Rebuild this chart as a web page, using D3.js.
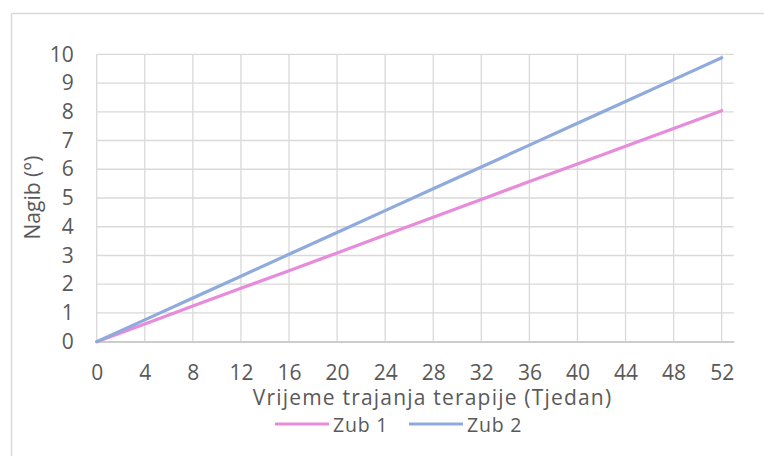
<!DOCTYPE html>
<html><head><meta charset="utf-8">
<script src="https://cdn.jsdelivr.net/npm/d3@7"></script>
<style>
html,body{margin:0;padding:0;background:#fff;}
text{font-family:"Open Sans",sans-serif;fill:#595959;}
</style></head>
<body>
<svg id="c" width="764" height="456"></svg>
<script>
const weeks = [0,4,8,12,16,20,24,28,32,36,40,44,48,52];
const zub1 = [0,0.62,1.24,1.86,2.47,3.09,3.71,4.33,4.95,5.57,6.18,6.80,7.42,8.04];
const zub2 = [0,0.76,1.52,2.28,3.04,3.80,4.56,5.32,6.08,6.84,7.60,8.36,9.12,9.88];
const xTicks = [0,4,8,12,16,20,24,28,32,36,40,44,48,52];
const yTicks = [0,1,2,3,4,5,6,7,8,9,10];
const seriesNames = ["Zub 1","Zub 2"];
const colors = ["#E78BDB","#8FAADC"];

const svg = d3.select("#c");
svg.append("line").attr("x1",11.5).attr("x2",11.5).attr("y1",13.5).attr("y2",456).attr("stroke","#d9d9d9").attr("stroke-width",1.5);
svg.append("line").attr("x1",11.5).attr("x2",764).attr("y1",13.5).attr("y2",13.5).attr("stroke","#d9d9d9").attr("stroke-width",1.5);

const x = d3.scaleLinear().domain([0,53]).range([96.7,733.7]);
const y = d3.scaleLinear().domain([0,10]).range([341.7,54.3]);

const g = svg.append("g");
g.selectAll(".hg").data(yTicks).join("line")
  .attr("x1",x(0)).attr("x2",x(53)).attr("y1",d=>y(d)).attr("y2",d=>y(d))
  .attr("stroke","#d9d9d9").attr("stroke-width",1.3);
g.selectAll(".vg").data(xTicks).join("line")
  .attr("x1",d=>x(d)).attr("x2",d=>x(d)).attr("y1",y(0)).attr("y2",y(10))
  .attr("stroke","#d9d9d9").attr("stroke-width",1.3);

const xAxis = d3.axisBottom(x).tickValues(xTicks).tickSize(0).tickPadding(23);
const xg = svg.append("g").attr("transform",`translate(0,${y(0)})`).call(xAxis);
xg.select(".domain").attr("stroke","#bfbfbf").attr("stroke-width",1.3);
xg.selectAll("text").style("font-size","21px").style("font-family","Open Sans").attr("fill","#595959");

const yAxis = d3.axisLeft(y).tickValues(yTicks).tickSize(0).tickPadding(23);
const yg = svg.append("g").attr("transform",`translate(${x(0)},0)`).call(yAxis);
yg.select(".domain").remove();
yg.selectAll("text").style("font-size","21px").style("font-family","Open Sans").attr("fill","#595959");

const data = [zub1, zub2];
const line = d3.line().x((d,i)=>x(weeks[i])).y(d=>y(d));
svg.selectAll(".ln").data(data).join("path")
  .attr("d",line).attr("fill","none")
  .attr("stroke",(d,i)=>colors[i]).attr("stroke-width",3.2).attr("stroke-linecap","round");

svg.append("text").attr("x",432.5).attr("y",405).attr("text-anchor","middle")
  .style("font-size","21px").style("letter-spacing","1.2px").text("Vrijeme trajanja terapije (Tjedan)");
svg.append("text").attr("transform","translate(40,197.5) rotate(-90)").attr("text-anchor","middle")
  .style("font-size","21px").text("Nagib (°)");

const legX = [275,409];
seriesNames.forEach((n,i)=>{
  svg.append("line").attr("x1",legX[i]).attr("x2",legX[i]+54).attr("y1",424).attr("y2",424)
    .attr("stroke",colors[i]).attr("stroke-width",3.2);
  svg.append("text").attr("x",legX[i]+58).attr("y",432).style("font-size","19.5px").style("letter-spacing","0.8px").text(n);
});
</script>
</body></html>
